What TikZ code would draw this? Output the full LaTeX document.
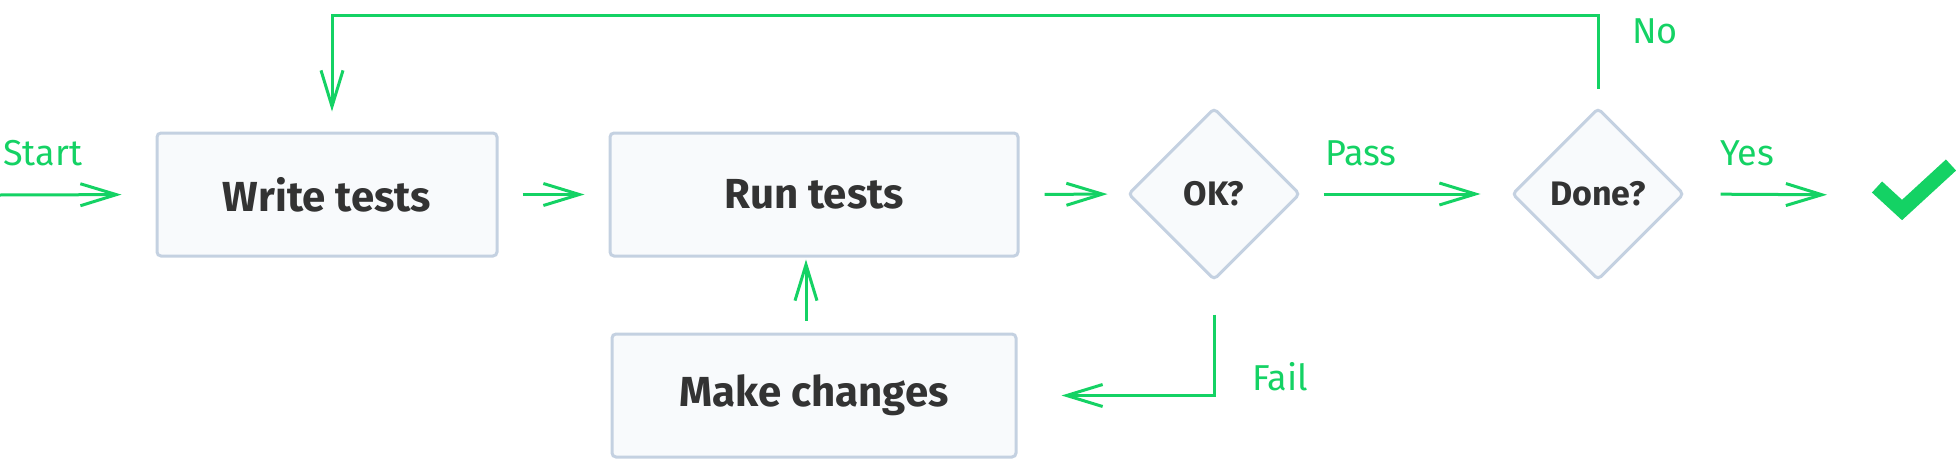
\documentclass[tikz,border=0pt]{standalone}
\usepackage{fontspec}
\setmainfont{Fira Sans}
\usetikzlibrary{arrows.meta,shapes.geometric}
\definecolor{flowgreen}{HTML}{14D264}
\definecolor{boxline}{HTML}{C4D1E1}
\definecolor{boxfill}{HTML}{F8FAFC}
\definecolor{boxtext}{HTML}{333333}
\begin{document}
\begin{tikzpicture}[x=1pt,y=-1pt,
	box/.style={draw=boxline, fill=boxfill, line width=3pt, rounded corners=4pt,
		minimum height=123pt, text=boxtext, font=\fontsize{42}{50}\selectfont\bfseries},
	decision/.style={diamond, draw=boxline, fill=boxfill, line width=3pt, rounded corners=4pt,
		minimum width=172pt, minimum height=172pt, inner sep=0pt, text=boxtext,
		font=\fontsize{34}{41}\selectfont\bfseries},
	flow/.style={draw=flowgreen, line width=3pt, -{Straight Barb[length=36pt,width=22pt]}},
	lbl/.style={anchor=base west, inner sep=0pt, text=flowgreen, font=\fontsize{36}{43}\selectfont}]
	\useasboundingbox (0,0) rectangle (1956,471);
	% steps
	\node[box, minimum width=340pt] (write) at (327,194.5) {Write tests};
	\node[box, minimum width=408pt] (run) at (814,194.5) {Run tests};
	\node[box, minimum width=404pt] (make) at (814,395.5) {Make changes};
	\node[decision] (ok) at (1214,194) {OK?};
	\node[decision] (done) at (1598,194) {Done?};
	\coordinate (begin) at (0,195);
	\coordinate (check) at (1872,195);
	% labels
	\node[lbl] (startlbl) at (3,165) {Start};
	\node[lbl] (passlbl) at (1325,165) {Pass};
	\node[lbl] (faillbl) at (1252,390) {Fail};
	\node[lbl] (nolbl) at (1632,43) {No};
	\node[lbl] (yeslbl) at (1720,165) {Yes};
	% connectors
	\draw[flow, shorten >=34pt] (begin) -- (write.west);
	\draw[flow, shorten <=24pt, shorten >=24pt] (write.east) -- (run.west);
	\draw[flow, shorten <=25pt, shorten >=19pt] (run.east) -- (ok.west);
	\draw[flow, shorten <=22pt, shorten >=30pt] (ok.east) -- (done.west);
	\draw[flow, shorten <=35pt, shorten >=45pt] (done.east) -- (check);
	\draw[flow, shorten <=18pt, shorten >=20pt] (done.north) -- ++(0,-91) -| ([xshift=5pt]write.north);
	\draw[flow, shorten <=33pt, shorten >=44pt] (ok.south) |- (make.east);
	\draw[flow, shorten <=12pt, shorten >=2pt] ([xshift=-8pt]make.north) -- ([xshift=-8pt]run.south);
	% tick
	\draw[flowgreen, line width=15pt] (1877,187) -- (1902,210) -- (1951,165);
\end{tikzpicture}
\end{document}
